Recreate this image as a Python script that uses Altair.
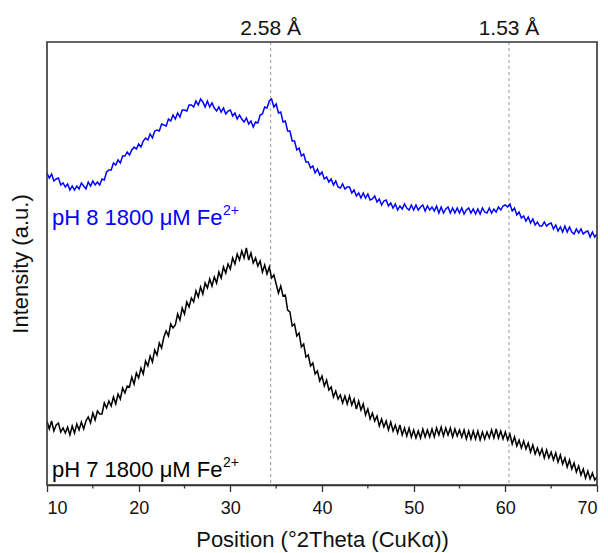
import altair as alt
import pandas as pd

# Sampling grid (°2Theta)
two_theta_start = 10.0
two_theta_step = 0.25

# Intensities (arbitrary units), one row per degree
ph8_intensity = [
    312, 307, 311, 304,
    306, 307, 300, 302,
    298, 301, 295, 299,
    295, 299, 296, 302,
    299, 296, 303, 299,
    304, 300, 303, 300,
    306, 305, 313, 315,
    315, 322, 320, 325,
    322, 329, 329, 333,
    330, 335, 338, 336,
    341, 338, 344, 347,
    345, 351, 347, 354,
    355, 354, 361, 360,
    359, 366, 364, 370,
    366, 372, 368, 375,
    375, 374, 380, 380,
    378, 384, 380, 386,
    383, 378, 384, 378,
    382, 377, 374, 378,
    373, 377, 371, 374,
    375, 369, 372, 366,
    370, 366, 363, 367,
    361, 364, 358, 363,
    362, 370, 371, 378,
    377, 384, 386, 378,
    381, 372, 373, 363,
    364, 354, 354, 344,
    344, 335, 337, 329,
    331, 323, 323, 317,
    319, 312, 316, 310,
    313, 306, 308, 303,
    306, 300, 304, 298,
    297, 301, 296, 298,
    298, 292, 295, 289,
    292, 287, 292, 287,
    291, 285, 286, 289,
    283, 286, 280, 284,
    285, 279, 282, 277,
    281, 275, 279, 276,
    281, 277, 275, 280,
    275, 280, 275, 278,
    280, 274, 279, 275,
    278, 274, 279, 272,
    278, 272, 276, 278,
    272, 277, 272, 277,
    272, 277, 271, 275,
    277, 272, 276, 271,
    276, 271, 277, 273,
    272, 277, 272, 276,
    273, 278, 275, 279,
    280, 278, 281, 274,
    277, 270, 273, 267,
    269, 264, 268, 262,
    266, 260, 263, 259,
    259, 263, 259, 261,
    262, 256, 260, 254,
    258, 253, 259, 253,
    258, 253, 251, 256,
    252, 256, 251, 253,
    254, 248, 253, 248,
    251,
]

ph7_intensity = [
    64, 56, 64, 54,
    60, 62, 53, 57,
    52, 58, 50, 59,
    52, 61, 55, 63,
    56, 64, 68, 62,
    72, 65, 74, 71,
    71, 82, 77, 84,
    79, 88, 81, 91,
    86, 97, 92, 99,
    98, 108, 101, 112,
    107, 117, 111, 124,
    119, 129, 123, 135,
    130, 142, 137, 148,
    154, 149, 161, 157,
    160, 171, 165, 177,
    171, 183, 178, 187,
    183, 194, 188, 198,
    191, 202, 197, 206,
    199, 208, 202, 213,
    207, 218, 212, 221,
    216, 227, 221, 231,
    225, 234, 227, 237,
    225, 232, 222, 227,
    219, 224, 213, 220,
    211, 218, 207, 210,
    201, 192, 199, 189,
    190, 175, 173, 159,
    161, 149, 152, 138,
    141, 128, 130, 119,
    122, 111, 114, 104,
    109, 99, 105, 95,
    98, 88, 94, 86,
    90, 82, 89, 81,
    89, 80, 86, 76,
    84, 75, 81, 70,
    76, 66, 72, 64,
    69, 59, 66, 58,
    64, 55, 63, 54,
    60, 52, 60, 50,
    57, 49, 57, 48,
    55, 47, 54, 47,
    56, 48, 55, 48,
    56, 48, 57, 50,
    58, 49, 57, 50,
    57, 48, 56, 49,
    55, 48, 55, 46,
    54, 46, 54, 46,
    54, 45, 53, 46,
    53, 47, 55, 47,
    56, 47, 54, 46,
    53, 45, 51, 41,
    48, 39, 45, 37,
    44, 36, 42, 33,
    40, 31, 37, 30,
    36, 27, 35, 27,
    33, 25, 32, 23,
    30, 21, 27, 18,
    25, 16, 22, 13,
    19, 10, 16, 7,
    14, 6, 12, 5,
    8,
]

series_names = ["pH 8", "pH 7"]
series_colors = ["#0000ff", "#000000"]
series_labels = ["pH 8 1800 \u03bcM Fe", "pH 7 1800 \u03bcM Fe"]
series_sup = ["2+", "2+"]

ref_positions = [34.4, 60.4]
ref_labels = ["2.58 \u00c5", "1.53 \u00c5"]
major_ticks = [10, 20, 30, 40, 50, 60, 70]
minor_ticks = [15, 25, 35, 45, 55, 65]

n = len(ph8_intensity)
pos = [two_theta_start + two_theta_step * i for i in range(n)]
df = pd.DataFrame({
    "pos": pos + pos,
    "intensity": ph8_intensity + ph7_intensity,
    "series": [series_names[0]] * n + [series_names[1]] * n,
})
ref_df = pd.DataFrame({"pos": ref_positions, "label": ref_labels})
minor_df = pd.DataFrame({"pos": minor_ticks})
one_row = pd.DataFrame({"k": [0]})

W, H = 550, 443
FONT = "Liberation Sans"
x_scale = alt.Scale(domain=[10, 70], nice=False, zero=False)
y_scale = alt.Scale(domain=[0, 443], nice=False, zero=False)

lines = alt.Chart(df).mark_line(strokeWidth=1.5, clip=True).encode(
    x=alt.X("pos:Q", scale=x_scale, axis=alt.Axis(
        values=major_ticks, title="Position (\u00b02Theta (CuK\u03b1))",
        grid=False, tickSize=6.5, tickWidth=1.3, tickColor="#333",
        domainColor="#333", domainWidth=1.5,
        labelFontSize=18, labelFont=FONT, labelColor="#111", labelPadding=8,
        titleFontSize=22, titleFont=FONT, titleColor="#111", titleFontWeight="normal",
        titlePadding=12,
    )),
    y=alt.Y("intensity:Q", scale=y_scale, axis=alt.Axis(
        title="Intensity (a.u.)", labels=False, ticks=False, domain=False, grid=False,
        titleFontSize=22, titleFont=FONT, titleColor="#111", titleFontWeight="normal",
        titlePadding=15,
    )),
    color=alt.Color("series:N", scale=alt.Scale(domain=series_names, range=series_colors), legend=None),
)

ref_rules = alt.Chart(ref_df).mark_rule(strokeDash=[3, 3], color="#9a9a9a", strokeWidth=1).encode(
    x=alt.X("pos:Q", scale=x_scale)
)
ref_text = alt.Chart(ref_df).mark_text(
    fontSize=21, font=FONT, color="#111", baseline="alphabetic", align="center"
).encode(x=alt.X("pos:Q", scale=x_scale), y=alt.value(-7), text="label:N")

minor = alt.Chart(minor_df).mark_rule(color="#333", strokeWidth=1.3).encode(
    x=alt.X("pos:Q", scale=x_scale), y=alt.value(H), y2=alt.value(H + 3.5)
)

frame = alt.Chart(one_row).mark_rect(fillOpacity=0, stroke="#333", strokeWidth=1.6).encode(
    x=alt.value(0), x2=alt.value(W), y=alt.value(0), y2=alt.value(H)
)

label_layers = []
label_y = [183, 435]
for i in range(2):
    label_layers.append(
        alt.Chart(one_row).mark_text(
            fontSize=22, font=FONT, color=series_colors[i], baseline="alphabetic", align="left"
        ).encode(x=alt.value(5), y=alt.value(label_y[i]), text=alt.value(series_labels[i]))
    )
    label_layers.append(
        alt.Chart(one_row).mark_text(
            fontSize=14, font=FONT, color=series_colors[i], baseline="alphabetic", align="left"
        ).encode(x=alt.value(176), y=alt.value(label_y[i] - 10), text=alt.value(series_sup[i]))
    )

chart = alt.layer(ref_rules, lines, minor, frame, ref_text, *label_layers).properties(
    width=W, height=H,
    autosize=alt.AutoSizeParams(type="none"),
    padding={"left": 39, "top": 34, "right": 3, "bottom": 68},
    background="white",
).configure_view(stroke=None)

chart.save("out.html", embed_options={"renderer": "svg", "actions": False})
